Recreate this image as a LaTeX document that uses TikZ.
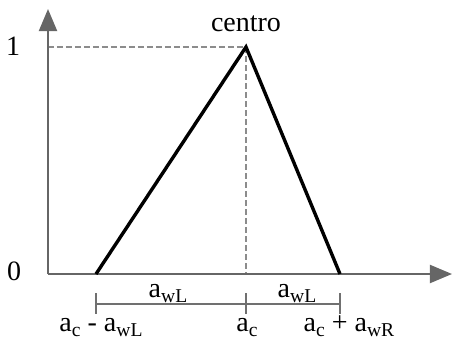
\documentclass[tikz,border=0pt]{standalone}
\usepackage{fontspec}
\setmainfont{Liberation Serif}
\usetikzlibrary{arrows.meta}
\definecolor{axisgray}{HTML}{666666}
\definecolor{dashgray}{HTML}{8C8C8C}
\definecolor{dimgray}{HTML}{707070}
\newcommand{\sub}[2]{#1\raisebox{-2.6pt}{\fontsize{9.8pt}{11pt}\selectfont #2}}
\begin{document}
\begin{tikzpicture}[x=0.5pt,y=-0.5pt,
  lbl/.style={inner sep=0pt,anchor=base,font=\fontsize{14pt}{16pt}\selectfont},
  axisline/.style={draw=axisgray,line width=1pt,-{Triangle[length=11pt,width=9pt,fill=axisgray]}},
  guide/.style={draw=dashgray,line width=0.8pt,dash pattern=on 3pt off 1.5pt},
  tri/.style={draw=black,line width=1.7pt,line join=miter},
  dimline/.style={draw=dimgray,line width=0.8pt}]
\useasboundingbox (0,0) rectangle (452,339);
\coordinate (O) at (48,274);
\coordinate (Ytip) at (48,9);
\coordinate (Xtip) at (452,274);
\coordinate (L) at (96,274);
\coordinate (P) at (246,47);
\coordinate (R) at (340,274);
\coordinate (Y1) at (48,47);
\coordinate (Pb) at (246,274);
\coordinate (D1) at (96,304);
\coordinate (D2) at (246,304);
\coordinate (D3) at (340,304);
% guides
\draw[guide] (Y1) -- (P);
\draw[guide] (P) -- (Pb);
% axes
\draw[axisline] (O) -- (Ytip);
\draw[axisline] (O) -- (Xtip);
% triangle
\draw[tri] (L) -- (P) -- (R);
% dimension line
\draw[dimline] (D1) -- (D3);
\foreach \d in {D1,D2,D3} \draw[dimline] ([yshift=5.5pt]\d) -- ([yshift=-5pt]\d);
% labels
\node[lbl] (one) at (13,55) {1};
\node[lbl] (zero) at (14,280) {0};
\node[lbl] (centro) at (246,31) {centro};
\node[lbl] (wl1) at (168,297) {\sub{a}{wL}};
\node[lbl] (wl2) at (297,297) {\sub{a}{wL}};
\node[lbl] (lo) at (101,331) {\sub{a}{c} - \sub{a}{wL}};
\node[lbl] (ac) at (247,331) {\sub{a}{c}};
\node[lbl] (hi) at (349,331) {\sub{a}{c} + \sub{a}{wR}};
\end{tikzpicture}
\end{document}
